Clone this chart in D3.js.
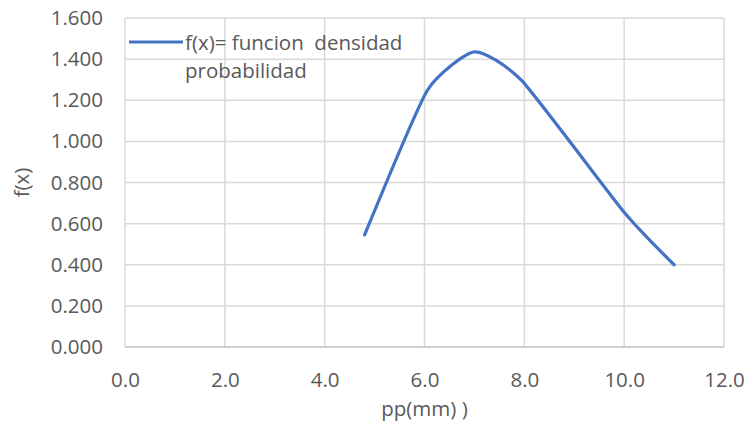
<!DOCTYPE html>
<html>
<head>
<meta charset="utf-8">
<script src="https://cdn.jsdelivr.net/npm/d3@7"></script>
<style>
  body { margin: 0; background: #fff; }
  text { font-family: "Open Sans", "Liberation Sans", sans-serif; fill: #595959; }
</style>
</head>
<body>
<svg id="chart" width="748" height="424"></svg>
<script>
// values
const ppValues = [4.8, 6.05, 7.0, 7.95, 10.0, 11.0];
const fxValues = [0.545, 1.245, 1.435, 1.295, 0.655, 0.400];
const xTicks = [0, 2, 4, 6, 8, 10, 12];
const yTicks = [0, 0.2, 0.4, 0.6, 0.8, 1.0, 1.2, 1.4, 1.6];
const legendLines = ["f(x)= funcion  densidad", "probabilidad"];

const svg = d3.select('#chart');
const margin = { left: 125, right: 24, top: 18, bottom: 77 };
const width = 748 - margin.left - margin.right;
const height = 424 - margin.top - margin.bottom;
const fs = 20.5;

const x = d3.scaleLinear().domain([0, 12]).range([0, width]);
const y = d3.scaleLinear().domain([0, 1.6]).range([height, 0]);

const g = svg.append('g').attr('transform', `translate(${margin.left},${margin.top})`);

// grid
g.selectAll('line.hgrid').data(yTicks.slice(1)).enter().append('line')
  .attr('x1', 0).attr('x2', width)
  .attr('y1', d => y(d)).attr('y2', d => y(d))
  .attr('stroke', '#d9d9d9').attr('stroke-width', 1.5);
g.selectAll('line.vgrid').data(xTicks).enter().append('line')
  .attr('x1', d => x(d)).attr('x2', d => x(d))
  .attr('y1', 0).attr('y2', height)
  .attr('stroke', '#d9d9d9').attr('stroke-width', 1.5);
g.append('line')
  .attr('x1', 0).attr('x2', width).attr('y1', y(0)).attr('y2', y(0))
  .attr('stroke', '#bfbfbf').attr('stroke-width', 1.5);

// axes labels
const xAxis = g.append('g').attr('transform', `translate(0,${height})`)
  .call(d3.axisBottom(x).tickValues(xTicks).tickFormat(d3.format('.1f')).tickSize(0).tickPadding(25));
const yAxis = g.append('g')
  .call(d3.axisLeft(y).tickValues(yTicks).tickFormat(d3.format('.3f')).tickSize(0).tickPadding(22));
[xAxis, yAxis].forEach(a => {
  a.select('.domain').remove();
  a.selectAll('text').attr('font-size', fs).attr('font-family', null).attr('fill', '#595959');
});

// line
const pts = ppValues.map((v, i) => [v, fxValues[i]]);
g.append('path').datum(pts)
  .attr('fill', 'none').attr('stroke', '#4472c4').attr('stroke-width', 3.2)
  .attr('stroke-linecap', 'round')
  .attr('d', d3.line().x(d => x(d[0])).y(d => y(d[1])).curve(d3.curveCardinal.tension(0.45)));

// legend
svg.append('line').attr('x1', 129).attr('x2', 183).attr('y1', 42).attr('y2', 42)
  .attr('stroke', '#4472c4').attr('stroke-width', 3.2);
svg.selectAll('text.leg').data(legendLines).enter().append('text')
  .attr('class', 'leg')
  .attr('x', 185).attr('y', (d, i) => 50 + i * 28)
  .attr('font-size', fs)
  .attr('xml:space', 'preserve')
  .style('white-space', 'pre')
  .text(d => d);

// axis titles
svg.append('text').attr('x', margin.left + width / 2).attr('y', 416)
  .attr('text-anchor', 'middle').attr('font-size', fs).text('pp(mm) )');
svg.append('text').attr('transform', `translate(29,${margin.top + height / 2}) rotate(-90)`)
  .attr('text-anchor', 'middle').attr('font-size', fs).text('f(x)');
</script>
</body>
</html>
